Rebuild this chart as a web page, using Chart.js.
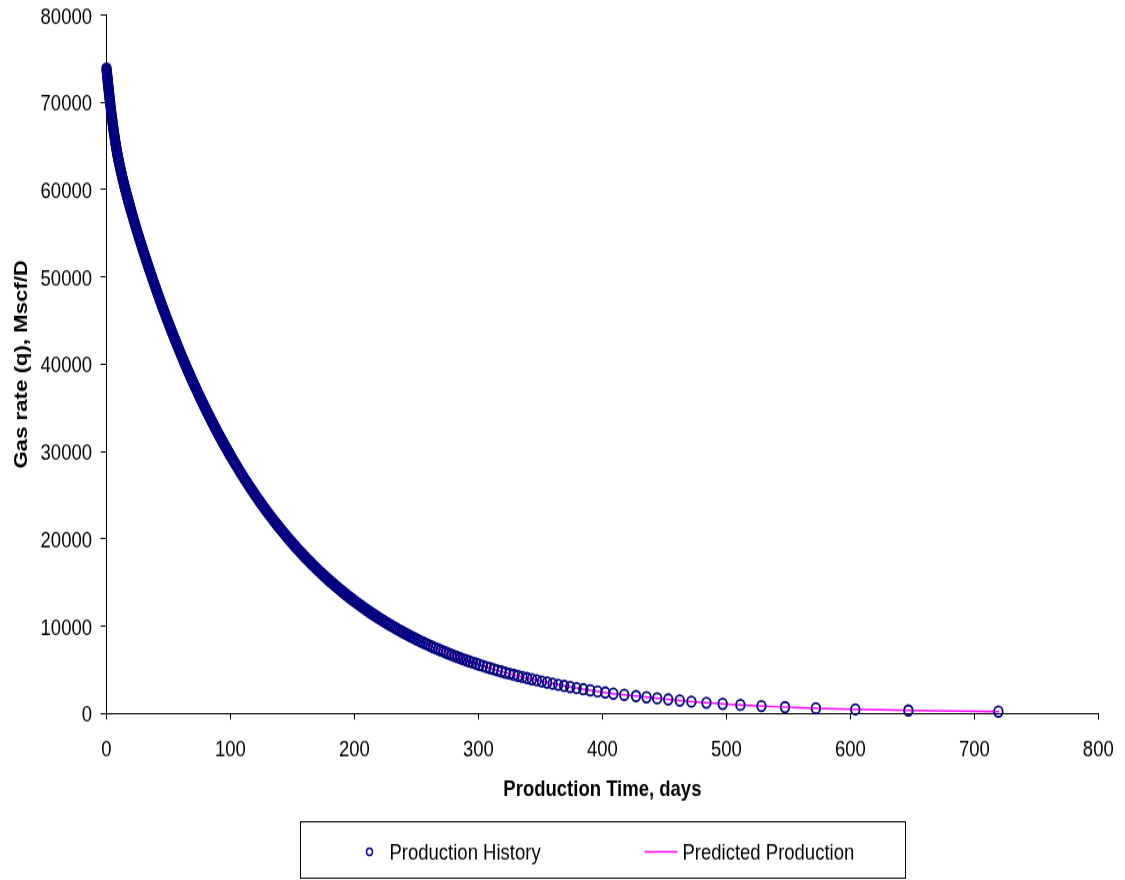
<!DOCTYPE html>
<html>
<head>
<meta charset="utf-8">
<title>Gas rate decline</title>
<script src="https://cdn.jsdelivr.net/npm/chart.js@4.4.1/dist/chart.umd.min.js"></script>
<style>
  html, body { margin: 0; padding: 0; background: #ffffff; }
</style>
</head>
<body>
<!-- the drawing surface is stretched vertically, like the printed report chart -->
<canvas id="chart" width="1125" height="733" style="display:block;width:1125px;height:880px;"></canvas>
<script>
// Production history: time (days) and gas rate (Mscf/D)
const historyDays = [
  0, 0.125, 0.25, 0.375, 0.5, 0.625, 0.75, 0.875, 1, 1.125, 1.25, 1.375, 1.5, 1.625, 1.75, 1.875,
  2, 2.125, 2.25, 2.375, 2.5, 2.625, 2.75, 2.875, 3, 3.2, 3.4, 3.6, 3.8,
  4, 4.2, 4.4, 4.6, 4.8, 5, 5.2, 5.4, 5.6, 5.8,
  6, 6.2, 6.4, 6.6, 6.8, 7, 7.2, 7.4, 7.6, 7.8,
  8, 8.2, 8.4, 8.6, 8.8, 9, 9.2, 9.4, 9.6, 9.8,
  10, 10.25, 10.5, 10.75, 11, 11.25, 11.5, 11.75, 12, 12.25, 12.5, 12.75, 13, 13.25, 13.5, 13.75, 14, 14.25, 14.5, 14.75,
  15, 15.25, 15.5, 15.75, 16, 16.25, 16.5, 16.75, 17, 17.25, 17.5, 17.75, 18, 18.25, 18.5, 18.75, 19, 19.25, 19.5, 19.75,
  20, 20.5, 21, 21.5, 22, 22.5, 23, 23.5, 24, 24.5, 25, 25.5, 26, 26.5, 27, 27.5, 28, 28.5, 29, 29.5,
  30, 30.5, 31, 31.5, 32, 32.5, 33, 33.5, 34, 34.5, 35, 35.5, 36, 36.5, 37, 37.5, 38, 38.5, 39, 39.5,
  40, 40.5, 41, 41.5, 42, 42.5, 43, 43.5, 44, 44.5, 45, 45.5, 46, 46.5, 47, 47.5, 48, 48.5, 49, 49.5,
  50, 50.5, 51, 51.5, 52, 52.5, 53, 53.5, 54, 54.5, 55, 55.5, 56, 56.5, 57, 57.5, 58, 58.5, 59, 59.5,
  60, 60.5, 61, 61.5, 62, 62.5, 63, 63.5, 64, 64.5, 65, 65.5, 66, 66.5, 67, 67.5, 68, 68.5, 69, 69.5,
  70, 70.5, 71, 71.5, 72, 72.5, 73, 73.5, 74, 74.5, 75, 75.5, 76, 76.5, 77, 77.5, 78, 78.5, 79, 79.5,
  80, 80.5, 81, 81.5, 82, 82.5, 83, 83.5, 84, 84.5, 85, 85.5, 86, 86.5, 87, 87.5, 88, 88.5, 89, 89.5,
  90, 90.5, 91, 91.5, 92, 92.5, 93, 93.5, 94, 94.5, 95, 95.5, 96, 96.5, 97, 97.5, 98, 98.5, 99, 99.5,
  100, 101, 102, 103, 104, 105, 106, 107, 108, 109,
  110, 111, 112, 113, 114, 115, 116, 117, 118, 119,
  120, 121, 122, 123, 124, 125, 126, 127, 128, 129,
  130, 131, 132, 133, 134, 135, 136, 137, 138, 139,
  140, 141, 142, 143, 144, 145, 146, 147, 148, 149,
  150, 151, 152, 153, 154, 155, 156, 157, 158, 159,
  160, 161, 162, 163, 164, 165, 166, 167, 168, 169,
  170, 171, 172, 173, 174, 175, 176, 177, 178, 179,
  180, 181, 182, 183, 184, 185, 186, 187, 188, 189,
  190, 191, 192, 193, 194, 195, 196, 197, 198, 199,
  200, 201, 202, 203, 204, 205, 206, 207, 208, 209,
  210, 211, 212, 213, 214, 215, 216, 217, 218, 219,
  220, 221.41, 222.84, 224.28, 225.74, 227.22, 228.72, 230.24, 231.78, 233.33, 234.91, 236.51, 238.13, 239.77, 241.43, 243.12, 244.83, 246.56, 248.32, 250.11,
  251.93, 253.77, 255.64, 257.54, 259.47, 261.43, 263.42, 265.45, 267.51, 269.61, 271.75, 273.92, 276.14, 278.39, 280.69, 283.03, 285.42, 287.86, 290.35, 292.89,
  295.49, 298.14, 300.85, 303.63, 306.47, 309.38, 312.36, 315.41, 318.55, 321.77, 325.08, 328.48, 331.98, 335.58, 339.30, 343.13, 347.09, 351.19, 355.43, 359.82,
  364.38, 369.12, 374.05, 379.20, 384.57, 390.20, 396.10, 402.30, 408.84,
  417.6, 427.1, 435.6, 444.2, 453.1, 462.4, 471.8, 483.9, 497.0, 511.3, 528.3, 547.3, 572.2, 604.0, 646.8, 719.4
];
const historyRate = [
  73900, 73718, 73538, 73358, 73180, 73003, 72828, 72653, 72480, 72308, 72137, 71967, 71799, 71632, 71466, 71301,
  71137, 70975, 70814, 70654, 70495, 70338, 70181, 70026, 69872, 69629, 69388, 69150, 68916,
  68685, 68456, 68231, 68009, 67790, 67575, 67362, 67152, 66946, 66742,
  66542, 66345, 66150, 65959, 65772, 65587, 65405, 65226, 65051, 64878,
  64709, 64543, 64380, 64220, 64063, 63909, 63758, 63610, 63466, 63324,
  63186, 63017, 62849, 62684, 62520, 62360, 62200, 62043, 61886, 61733, 61579, 61429, 61278, 61130, 60982, 60837, 60692, 60549, 60406, 60266,
  60125, 59987, 59849, 59713, 59576, 59441, 59306, 59173, 59040, 58909, 58777, 58647, 58516, 58388, 58259, 58132, 58004, 57877, 57750, 57626,
  57501, 57252, 57006, 56762, 56518, 56278, 56039, 55801, 55565, 55330, 55096, 54864, 54634, 54405, 54177, 53950, 53724, 53499, 53276, 53054,
  52832, 52612, 52392, 52174, 51957, 51741, 51526, 51312, 51099, 50887, 50676, 50465, 50256, 50047, 49840, 49633, 49427, 49222, 49017, 48814,
  48612, 48409, 48208, 48009, 47810, 47612, 47415, 47218, 47023, 46828, 46634, 46441, 46249, 46057, 45866, 45676, 45487, 45299, 45111, 44924,
  44738, 44553, 44368, 44185, 44002, 43819, 43638, 43457, 43277, 43098, 42920, 42742, 42565, 42389, 42213, 42038, 41864, 41691, 41518, 41346,
  41175, 41005, 40835, 40666, 40497, 40330, 40163, 39996, 39831, 39666, 39501, 39338, 39175, 39013, 38851, 38690, 38530, 38370, 38211, 38053,
  37895, 37738, 37582, 37426, 37271, 37117, 36963, 36810, 36658, 36506, 36355, 36204, 36054, 35905, 35756, 35608, 35461, 35314, 35167, 35022,
  34877, 34733, 34589, 34446, 34303, 34161, 34019, 33878, 33738, 33598, 33459, 33321, 33183, 33045, 32909, 32772, 32637, 32501, 32367, 32233,
  32099, 31966, 31834, 31702, 31571, 31440, 31310, 31180, 31051, 30922, 30794, 30667, 30540, 30413, 30287, 30162, 30037, 29913, 29789, 29665,
  29542, 29298, 29056, 28816, 28577, 28341, 28107, 27875, 27644, 27416,
  27189, 26964, 26741, 26520, 26301, 26084, 25868, 25654, 25442, 25232,
  25024, 24817, 24612, 24409, 24207, 24007, 23808, 23612, 23416, 23223,
  23031, 22841, 22652, 22465, 22279, 22095, 21912, 21731, 21552, 21373,
  21196, 21021, 20847, 20675, 20504, 20334, 20166, 20000, 19834, 19670,
  19508, 19347, 19187, 19028, 18871, 18715, 18560, 18407, 18255, 18104,
  17954, 17806, 17658, 17512, 17368, 17224, 17082, 16941, 16801, 16662,
  16524, 16387, 16252, 16118, 15984, 15852, 15721, 15591, 15462, 15335,
  15208, 15082, 14958, 14834, 14711, 14590, 14469, 14350, 14231, 14113,
  13997, 13881, 13767, 13653, 13540, 13428, 13317, 13207, 13098, 12990,
  12882, 12776, 12670, 12565, 12461, 12358, 12256, 12155, 12054, 11955,
  11856, 11758, 11661, 11564, 11469, 11374, 11280, 11187, 11094, 11003,
  10912, 10785, 10658, 10531, 10404, 10277, 10150, 10023, 9896, 9769, 9642, 9515, 9388, 9261, 9134, 9007, 8880, 8753, 8626, 8499,
  8372, 8245, 8118, 7991, 7864, 7737, 7610, 7483, 7356, 7229, 7102, 6975, 6848, 6721, 6594, 6467, 6340, 6213, 6086, 5959,
  5832, 5705, 5578, 5451, 5324, 5197, 5070, 4943, 4816, 4689, 4562, 4435, 4308, 4181, 4054, 3927, 3800, 3673, 3546, 3419,
  3292, 3165, 3038, 2911, 2784, 2657, 2530, 2403, 2276,
  2140, 1995, 1865, 1740, 1615, 1485, 1360, 1230, 1105, 980, 850, 725, 600, 470, 345, 220
];

// Predicted production (decline curve fit)
const predictedDays = [0, 10, 20, 40, 60, 80, 100, 130, 160, 190, 220, 250, 280, 310, 340, 370, 400, 430, 460, 490, 520, 560, 600, 650, 720];
const predictedRate = [73900, 63186, 57501, 48612, 41175, 34877, 29542, 23031, 17954, 13997, 10912, 8507, 6632, 5170, 4030, 3142, 2449, 1950, 1520, 1170, 915, 665, 485, 338, 218];

// Axis ranges: [min, max, step]
const timeAxis = [0, 800, 100];
const rateAxis = [0, 80000, 10000];

const seriesNames = ['Production History', 'Predicted Production'];
const axisTitles = ['Production Time, days', 'Gas rate (q), Mscf/D'];

const FONT_FAMILY = '"Liberation Sans", Arial, Helvetica, sans-serif';
const FONT_SIZE = 18.5;
const NAVY = '#000080';
const MAGENTA = '#ff00ff';

const toPoints = (xs, ys) => xs.map((x, i) => ({ x: x, y: ys[i] }));

// Boxed legend under the axis title
const boxLegend = {
  id: 'boxLegend',
  afterDraw(chart) {
    const { ctx, chartArea } = chart;
    const boxW = 605, boxTop = 684.5, boxH = 47;
    const cx = (chartArea.left + chartArea.right) / 2;
    const left = Math.round(cx - boxW / 2) + 0.5;
    const midY = boxTop + 25;
    const [hist, pred] = chart.data.datasets;
    ctx.save();
    ctx.strokeStyle = '#000000';
    ctx.lineWidth = 1;
    ctx.strokeRect(left, boxTop, boxW, boxH);

    ctx.font = `${FONT_SIZE}px ${FONT_FAMILY}`;
    ctx.textBaseline = 'middle';
    ctx.textAlign = 'left';
    ctx.fillStyle = '#000000';

    ctx.beginPath();
    ctx.arc(left + 69, midY, 3, 0, Math.PI * 2);
    ctx.lineWidth = 1.4;
    ctx.strokeStyle = hist.pointBorderColor;
    ctx.stroke();
    ctx.fillText(hist.label, left + 89, midY + 1);

    ctx.beginPath();
    ctx.moveTo(left + 344, midY);
    ctx.lineTo(left + 377, midY);
    ctx.lineWidth = 1.5;
    ctx.strokeStyle = pred.borderColor;
    ctx.stroke();
    ctx.fillText(pred.label, left + 382, midY + 1);
    ctx.restore();
  }
};

const tickFont = { family: FONT_FAMILY, size: FONT_SIZE };
const titleFont = { family: FONT_FAMILY, size: FONT_SIZE, weight: 'bold' };

new Chart(document.getElementById('chart'), {
  type: 'scatter',
  data: {
    datasets: [
      {
        label: seriesNames[0],
        data: toPoints(historyDays, historyRate),
        showLine: false,
        clip: false,
        pointStyle: 'circle',
        pointRadius: 4.3,
        pointBorderWidth: 1.8,
        pointBorderColor: NAVY,
        pointBackgroundColor: 'rgba(255,255,255,0)',
        pointHoverRadius: 4.3
      },
      {
        label: seriesNames[1],
        data: toPoints(predictedDays, predictedRate),
        showLine: true,
        borderColor: MAGENTA,
        borderWidth: 1.5,
        pointRadius: 0,
        pointHoverRadius: 0,
        tension: 0.35,
        fill: false
      }
    ]
  },
  options: {
    responsive: false,
    devicePixelRatio: 1,
    animation: false,
    events: [],
    layout: { padding: { top: 12.5, right: 26.7, bottom: 58.7, left: 0 } },
    plugins: {
      legend: { display: false },
      tooltip: { enabled: false }
    },
    scales: {
      x: {
        type: 'linear',
        min: timeAxis[0],
        max: timeAxis[1],
        afterFit(scale) {
          scale.height = 80;
          scale.paddingLeft = 0;
          scale.paddingRight = 0;
        },
        ticks: { stepSize: timeAxis[2], color: '#000', font: tickFont, padding: 14.5, maxRotation: 0 },
        grid: { display: true, drawOnChartArea: false, drawTicks: true, tickLength: 5, color: '#000', lineWidth: 1 },
        border: { display: true, color: '#000', width: 1 },
        title: { display: true, text: axisTitles[0], color: '#000', font: titleFont, padding: { top: 0, bottom: 5 } }
      },
      y: {
        type: 'linear',
        min: rateAxis[0],
        max: rateAxis[1],
        afterFit(scale) {
          scale.width = 106.5;
          scale.paddingTop = 0;
          scale.paddingBottom = 0;
        },
        ticks: { stepSize: rateAxis[2], color: '#000', font: tickFont, padding: 8.5, labelOffset: 2, callback: v => String(v) },
        grid: { display: true, drawOnChartArea: false, drawTicks: true, tickLength: 6, color: '#000', lineWidth: 1 },
        border: { display: true, color: '#000', width: 1 },
        title: { display: true, text: axisTitles[1], color: '#000', font: titleFont, padding: { top: 11, bottom: 0 } }
      }
    }
  },
  plugins: [boxLegend]
});
</script>
</body>
</html>
